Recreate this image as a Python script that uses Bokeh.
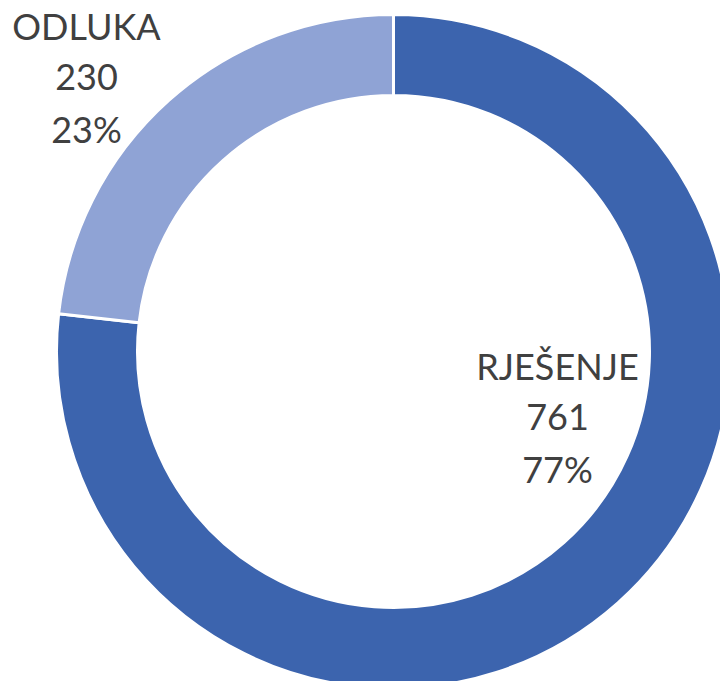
import numpy as np
from bokeh.plotting import figure
from bokeh.models import Range1d, ColumnDataSource
from bokeh.core.properties import value
from bokeh.embed import file_html
from bokeh.resources import INLINE

# ---- data ----
categories = ["RJEŠENJE", "ODLUKA"]
counts = [761, 230]
colors = ["#3C64AE", "#8FA3D5"]

# ---- layout (pixel-like data coords, y up) ----
W, H = 720, 681
cx, cy = 393, 330
r_out, r_in = 337, 256

vals = np.array(counts, dtype=float)
frac = vals / vals.sum()
ends = np.pi / 2 - 2 * np.pi * np.cumsum(frac)
starts = np.concatenate([[np.pi / 2], ends[:-1]])
pcts = [f"{round(f * 100):d}%" for f in frac]

src = ColumnDataSource(dict(start=starts, end=ends, color=colors, cat=categories))

p = figure(width=W, height=H, output_backend="svg", toolbar_location=None,
           x_range=Range1d(0, W), y_range=Range1d(0, H), min_border=0)
p.axis.visible = False
p.grid.visible = False
p.outline_line_color = None
p.background_fill_color = "white"

p.annular_wedge(x=cx, y=cy, inner_radius=r_in, outer_radius=r_out,
                start_angle="start", end_angle="end", direction="clock",
                fill_color="color", line_color="white", line_width=3, source=src)

# label anchors: (x center, first line position) for each category
label_anchor = {"RJEŠENJE": (557, H - 365), "ODLUKA": (86, H - 25)}
line_gap = 51.5
for cat, cnt, pct in zip(categories, counts, pcts):
    ax, ay = label_anchor[cat]
    lines = [cat, str(cnt), pct]
    p.text(x=[ax] * 3, y=[ay - i * line_gap for i in range(3)], text=lines,
           text_align="center", text_baseline="alphabetic",
           text_font=value("Lato"), text_font_size="36px", text_color="#404040")

open("out.html", "w").write(file_html(p, INLINE))
